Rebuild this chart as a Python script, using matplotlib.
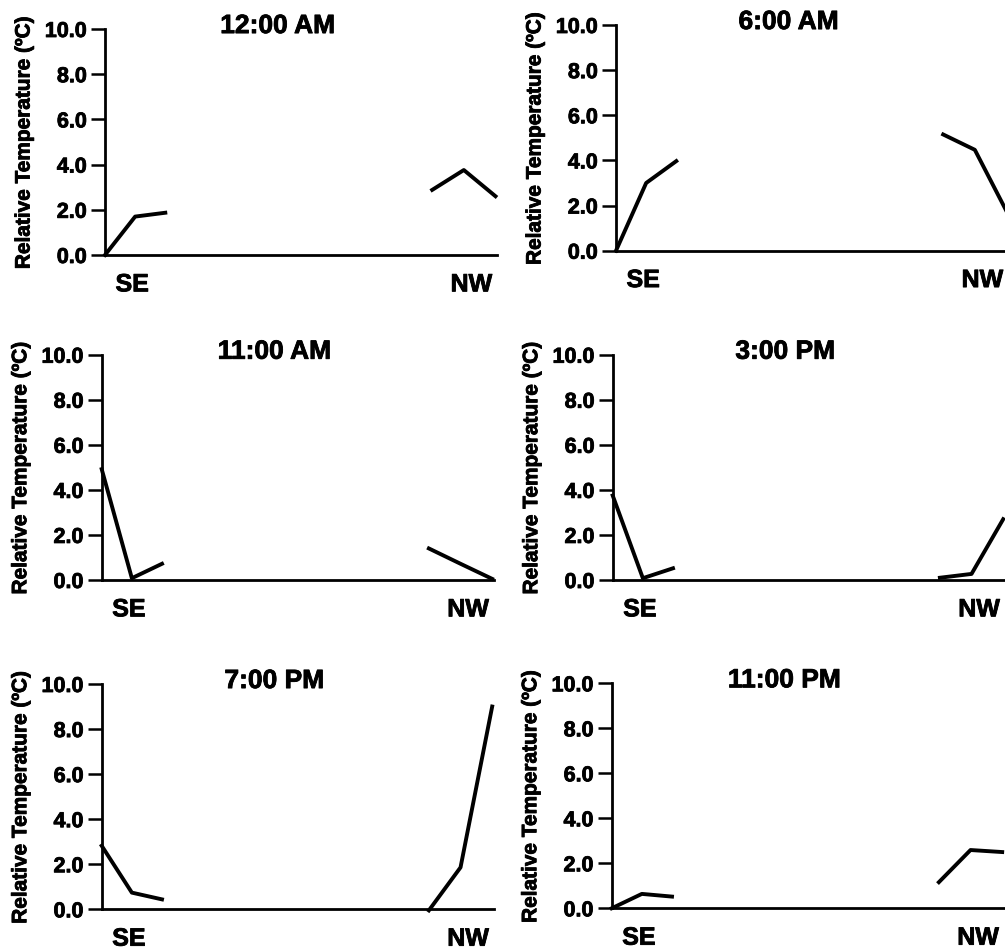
import matplotlib
matplotlib.use("Agg")
import matplotlib.pyplot as plt
import matplotlib.patheffects as pe

plt.rcParams['font.family'] = ['Liberation Sans', 'DejaVu Sans']
plt.rcParams['font.weight'] = 'bold'

# station positions along the transect (SE end ... NW end)
se_x = [0, 1, 2]
nw_x = [10.85, 11.9, 12.95]

titles = ["12:00 AM", "6:00 AM", "11:00 AM", "3:00 PM", "7:00 PM", "11:00 PM"]
se_temp = [
    [0.0, 1.70, 1.87],
    [0.0, 3.00, 3.97],
    [4.92, 0.08, 0.72],
    [3.75, 0.08, 0.52],
    [2.82, 0.74, 0.44],
    [0.0, 0.64, 0.52],
]
nw_temp = [
    [2.88, 3.76, 2.60],
    [5.15, 4.47, 1.75],
    [1.40, 0.72, 0.05],
    [0.10, 0.27, 2.70],
    [-0.05, 1.86, 9.00],
    [1.16, 2.59, 2.50],
]
yticks = [0, 2, 4, 6, 8, 10]
ylab = "Relative Temperature (ºC)"

W, H = 1005, 950
fig = plt.figure(figsize=(W / 100, H / 100), dpi=100)

# axes boxes in pixels: left, top of y=10, bottom of y=0
boxes = [
    (105, 29, 255), (616, 25, 250.7),
    (101.7, 354.7, 580), (612.7, 354.7, 580),
    (101.7, 684, 909.3), (611.7, 683.3, 908.3),
]
aw = 392
heavy = [pe.withStroke(linewidth=0.6, foreground='black')]

for i, (l, t, b) in enumerate(boxes):
    ax = fig.add_axes([l / W, 1 - b / H, aw / W, (b - t) / H])
    ax.plot(se_x, se_temp[i], color='black', lw=2.8, clip_on=False)
    ax.plot(nw_x, nw_temp[i], color='black', lw=2.8, clip_on=False)
    ax.set_xlim(0, 13)
    ax.set_ylim(0, 10)
    for s in ['top', 'right']:
        ax.spines[s].set_visible(False)
    for s in ['left', 'bottom']:
        ax.spines[s].set_linewidth(2.0)
    ax.set_yticks(yticks)
    ax.set_yticklabels(["%.1f" % v for v in yticks])
    ax.tick_params(axis='y', length=10, width=1.8, pad=3, labelsize=15.5)
    ax.set_xticks([0.9, 12.15])
    ax.set_xticklabels(["SE", "NW"])
    ax.tick_params(axis='x', length=0, pad=12.5, labelsize=18)
    for lab in ax.get_yticklabels() + ax.get_xticklabels():
        lab.set_path_effects(heavy)
    ax.text(0.44, 0.982, titles[i], transform=ax.transAxes, ha='center',
            va='baseline', fontsize=19, fontweight='bold', path_effects=heavy)
    ax.text(-81 / aw, 0.5, ylab, transform=ax.transAxes, rotation=90,
            ha='center', va='center', fontsize=15, fontweight='bold',
            path_effects=heavy)

fig.savefig("out.png", dpi=100)
